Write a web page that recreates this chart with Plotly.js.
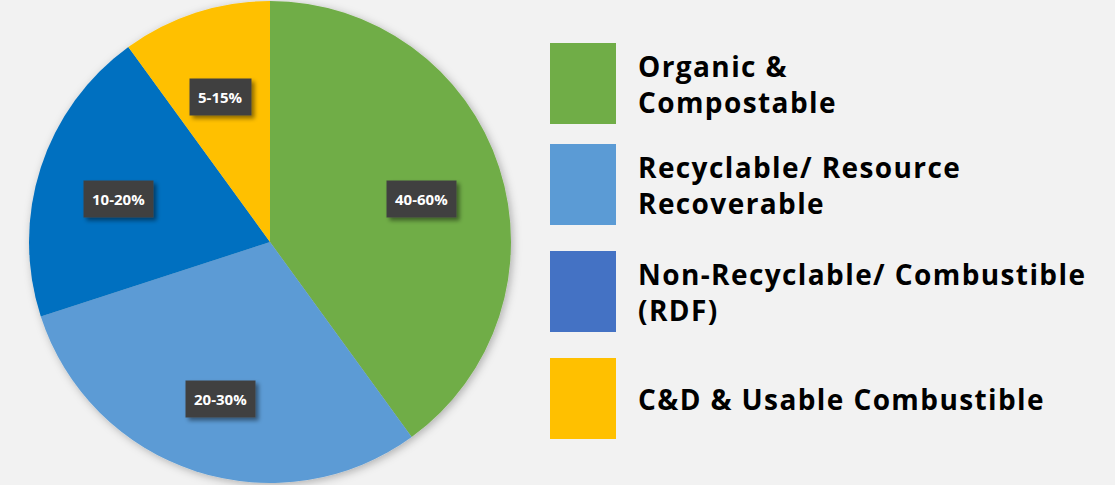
<!DOCTYPE html>
<html>
<head>
<meta charset="utf-8">
<script src="https://cdn.plot.ly/plotly-3.0.1.min.js"></script>
<style>
html,body{margin:0;padding:0;background:#F2F2F2;}
#chart{width:1115px;height:485px;}
</style>
</head>
<body>
<div id="chart"></div>
<script>
// ---- data ----
const categories = ["Organic & Compostable", "Recyclable/ Resource Recoverable", "Non-Recyclable/ Combustible (RDF)", "C&D & Usable Combustible"];
const legendLabels = ["Organic &<br>Compostable", "Recyclable/ Resource<br>Recoverable", "Non-Recyclable/ Combustible<br>(RDF)", "C&D & Usable Combustible"];
const shares = [40, 30, 20, 10];
const rangeLabels = ["40-60%", "20-30%", "10-20%", "5-15%"];

// ---- styles ----
const sliceColors = ["#70AD47", "#5B9BD5", "#0070C0", "#FFC000"];
const legendColors = ["#70AD47", "#5B9BD5", "#4472C4", "#FFC000"];

const W = 1115, H = 485;
const pieDomainX = [2 / W, 538 / W];
const pieDomainY = [2 / H, 1 - 1 / H];
const cx = (pieDomainX[0] + pieDomainX[1]) / 2 * W;
const cy = (1 - (pieDomainY[0] + pieDomainY[1]) / 2) * H;
const R = Math.min((pieDomainX[1] - pieDomainX[0]) * W, (pieDomainY[1] - pieDomainY[0]) * H) / 2;

// label positions derived from the slice mid-angles
const total = shares.reduce((a, b) => a + b, 0);
let acc = 0;
const annotations = [];
shares.forEach((v, i) => {
  const mid = (acc + v / 2) / total * 2 * Math.PI;
  acc += v;
  const r = 0.66 * R;
  const px = cx + r * Math.sin(mid);
  const py = cy - r * Math.cos(mid);
  annotations.push({
    xref: "paper", yref: "paper",
    x: px / W, y: 1 - py / H,
    yshift: -6,
    xanchor: "center", yanchor: "middle",
    text: "<b>" + rangeLabels[i] + "</b>",
    showarrow: false,
    borderpad: 8,
    bgcolor: "#404040",
    font: {family: "Open Sans, Noto Sans, sans-serif", size: 15, color: "#FFFFFF"}
  });
});

// legend
const shapes = [];
const boxTops = [43, 144, 251, 358];
categories.forEach((c, i) => {
  const y0 = boxTops[i], y1 = y0 + 81;
  shapes.push({
    type: "rect", xref: "paper", yref: "paper",
    x0: 550 / W, x1: 616 / W, y0: 1 - y1 / H, y1: 1 - y0 / H,
    fillcolor: legendColors[i], line: {width: 0}, layer: "above"
  });
  annotations.push({
    xref: "paper", yref: "paper",
    x: 636 / W, y: 1 - (y0 + 40.5) / H,
    xanchor: "left", yanchor: "middle", align: "left",
    text: "<b>" + legendLabels[i] + "</b>",
    showarrow: false,
    font: {family: "Open Sans, Noto Sans, sans-serif", size: 28, color: "#000000"}
  });
});

const trace = {
  type: "pie",
  labels: categories,
  values: shares,
  sort: false,
  direction: "clockwise",
  rotation: 0,
  textinfo: "none",
  hoverinfo: "label+percent",
  marker: {colors: sliceColors, line: {width: 0}},
  domain: {x: pieDomainX, y: pieDomainY},
  showlegend: false
};

const layout = {
  width: W, height: H,
  margin: {l: 0, r: 0, t: 0, b: 0},
  paper_bgcolor: "#F2F2F2",
  plot_bgcolor: "#F2F2F2",
  showlegend: false,
  shapes: shapes,
  annotations: annotations
};

function addFilters() {
  const svg = document.querySelector("#chart svg.main-svg");
  const NS = "http://www.w3.org/2000/svg";
  let defs = svg.querySelector("defs");
  if (!defs) { defs = document.createElementNS(NS, "defs"); svg.insertBefore(defs, svg.firstChild); }
  const mk = (id, dx, dy, sd, op) => {
    const f = document.createElementNS(NS, "filter");
    f.setAttribute("id", id);
    f.setAttribute("x", "-20%"); f.setAttribute("y", "-20%");
    f.setAttribute("width", "140%"); f.setAttribute("height", "140%");
    const d = document.createElementNS(NS, "feDropShadow");
    d.setAttribute("dx", dx); d.setAttribute("dy", dy);
    d.setAttribute("stdDeviation", sd);
    d.setAttribute("flood-color", "#000"); d.setAttribute("flood-opacity", op);
    f.appendChild(d); defs.appendChild(f);
  };
  mk("pieShadow", 2, 2, 4, 0.28);
  mk("lblShadow", 3, 3, 2, 0.45);
  const pl = svg.querySelector(".pielayer");
  if (pl) pl.setAttribute("filter", "url(#pieShadow)");
  document.querySelectorAll("#chart .annotation").forEach(a => {
    const t = a.querySelector(".annotation-text");
    if (!t) return;
    if (t.style.fontSize === "15px") {
      const bg = a.querySelector("rect.bg");
      if (bg) bg.setAttribute("filter", "url(#lblShadow)");
    } else {
      t.style.letterSpacing = "1.4px";
    }
  });
}

Plotly.newPlot("chart", [trace], layout, {displayModeBar: false, staticPlot: true}).then(addFilters);
</script>
</body>
</html>
